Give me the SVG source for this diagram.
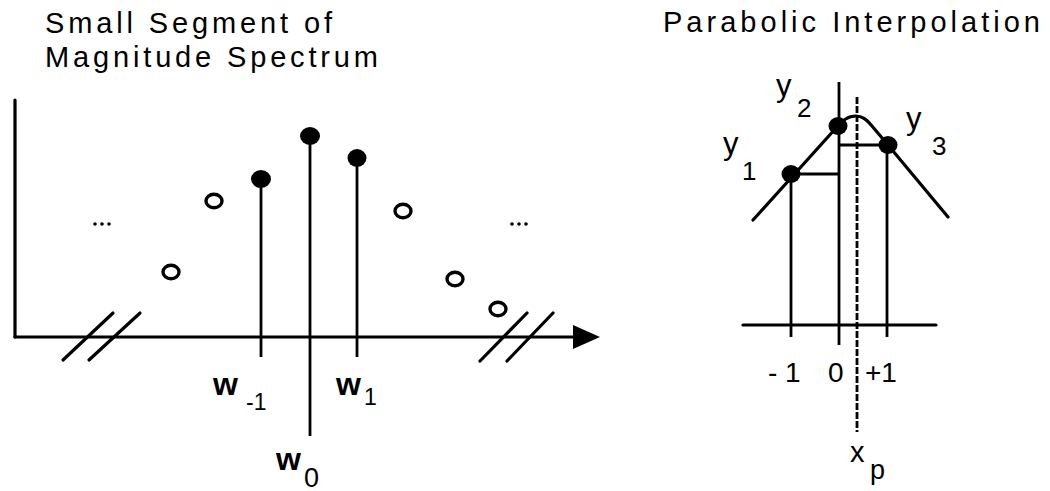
<svg xmlns="http://www.w3.org/2000/svg" width="1050" height="491" viewBox="0 0 1050 491">
<defs>
<style>
.t{font-family:"Liberation Sans",Arial,sans-serif;fill:#000}
.title{font-size:29px}
.wl{font-size:32px;font-weight:bold}
.sub{font-size:23px}
.ln{stroke:#000;stroke-width:3.2;fill:none;stroke-linecap:round}
.st{stroke:#000;stroke-width:2.8;fill:none}
.dot{fill:#000}
.oc{fill:#fff;stroke:#000;stroke-width:3.4}
.dash{stroke:#000;stroke-width:2.8;fill:none;stroke-dasharray:7 2}
</style>
</defs>
<rect width="1050" height="491" fill="#fff"/>

<g id="left-title">
<text class="t title" x="45" y="33" textLength="287" lengthAdjust="spacing">Small Segment of</text>
<text class="t title" x="45" y="67" textLength="333" lengthAdjust="spacing">Magnitude  Spectrum</text>
</g>

<g id="left-axes">
<line class="ln" x1="15" y1="100" x2="15" y2="337"/>
<line class="ln" x1="15" y1="337" x2="575" y2="337"/>
<path d="M573,325 L600,337 L573,349 Z" fill="#000"/>
<line class="ln" x1="113" y1="313" x2="63" y2="360" stroke-width="4"/>
<line class="ln" x1="140" y1="313" x2="89" y2="360" stroke-width="4"/>
<line class="ln" x1="527" y1="313" x2="480" y2="361" stroke-width="4"/>
<line class="ln" x1="553" y1="313" x2="507" y2="361" stroke-width="4"/>
</g>

<g id="stems">
<line class="st" x1="261" y1="179" x2="261" y2="357"/>
<line class="st" x1="310" y1="136" x2="310" y2="436"/>
<line class="st" x1="357" y1="158" x2="357" y2="357"/>
<ellipse class="dot" cx="261" cy="179" rx="10" ry="9"/>
<ellipse class="dot" cx="310" cy="136" rx="10" ry="9"/>
<ellipse class="dot" cx="357" cy="158" rx="9.5" ry="9"/>
</g>

<g id="open-samples">
<ellipse class="oc" cx="171" cy="272" rx="8" ry="6.8"/>
<ellipse class="oc" cx="214" cy="201" rx="8" ry="6.8"/>
<ellipse class="oc" cx="403" cy="211" rx="8" ry="6.8"/>
<ellipse class="oc" cx="455" cy="279" rx="8" ry="6.8"/>
<ellipse class="oc" cx="498" cy="309" rx="8" ry="6.8"/>
</g>

<g id="ellipses">
<circle cx="95" cy="224" r="1.8"/><circle cx="102" cy="224" r="1.8"/><circle cx="109" cy="224" r="1.8"/>
<circle cx="512" cy="224" r="1.8"/><circle cx="519" cy="224" r="1.8"/><circle cx="526" cy="224" r="1.8"/>
</g>

<g id="w-labels">
<text class="t wl" x="213" y="395">w</text><text class="t sub" x="246" y="410">-1</text>
<text class="t wl" x="336" y="395">w</text><text class="t sub" x="364" y="405">1</text>
<text class="t wl" x="276" y="470">w</text><text class="t" font-size="27" x="304" y="487">0</text>
</g>

<g id="right-title">
<text class="t title" x="663" y="32" textLength="377" lengthAdjust="spacing">Parabolic  Interpolation</text>
</g>

<g id="parabola">
<line class="ln" x1="743" y1="325" x2="936" y2="325"/>
<line class="st" x1="791" y1="174" x2="791" y2="337"/>
<line class="st" x1="839" y1="82" x2="839" y2="345"/>
<line class="st" x1="887" y1="145" x2="887" y2="337"/>
<line class="dash" x1="857" y1="97" x2="857" y2="432"/>
<path class="ln" d="M753,220 L836,128 C843,120 848,116 856,116 C862,116 866,119 872,126 L888,145 L948,217"/>
<line class="st" x1="791" y1="174" x2="839" y2="174"/>
<line class="st" x1="839" y1="145" x2="887" y2="145"/>
<ellipse class="dot" cx="791" cy="174" rx="9.5" ry="9"/>
<ellipse class="dot" cx="838" cy="126" rx="9.5" ry="9"/>
<ellipse class="dot" cx="888" cy="145" rx="9.5" ry="9"/>
</g>

<g id="y-labels">
<text class="t" font-size="31" x="776" y="96">y</text><text class="t" font-size="26" x="797" y="117">2</text>
<text class="t" font-size="31" x="723" y="154">y</text><text class="t" font-size="26" x="742" y="180">1</text>
<text class="t" font-size="31" x="906" y="129">y</text><text class="t" font-size="26" x="932" y="155">3</text>
</g>

<g id="x-labels">
<text class="t" font-size="28" x="768" y="382">- 1</text>
<text class="t" font-size="28" x="828" y="382">0</text>
<text class="t" font-size="28" x="865" y="382">+1</text>
<text class="t" font-size="29" x="850" y="462">x</text>
<text class="t" font-size="27" x="870" y="479">p</text>
</g>
</svg>
